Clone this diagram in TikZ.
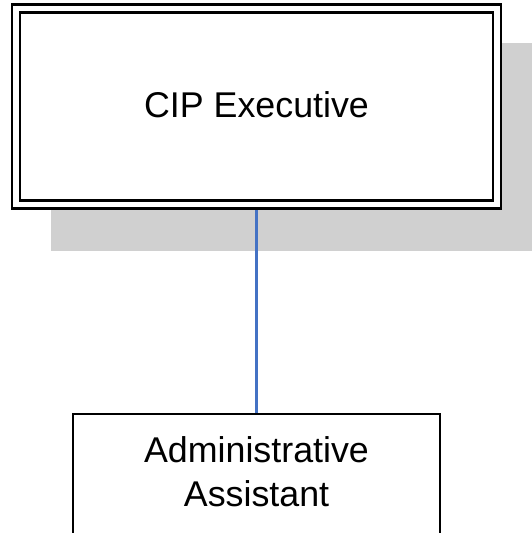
\documentclass[tikz,border=0pt]{standalone}
\usepackage{fontspec}
\setmainfont{Liberation Sans}
\usetikzlibrary{backgrounds}
\definecolor{shadowgray}{RGB}{208,208,208}
\definecolor{linkblue}{RGB}{68,114,196}
\begin{document}
\begin{tikzpicture}[x=1pt,y=-1pt,
  orgtext/.style={font=\fontsize{35.8}{44}\selectfont, align=center, inner sep=0pt},
  execbox/.style={draw=black, line width=2.3pt, double=white, double distance=5.7pt,
    fill=white, minimum width=480.5pt, minimum height=196pt, inner sep=0pt,
    text depth=4pt, font=\fontsize{35.8}{44}\selectfont},
  orgbox/.style={draw=black, line width=2.3pt, fill=white, inner sep=0pt},
  link/.style={draw=linkblue, line width=2.7pt}]
  \useasboundingbox (0,0) rectangle (532,533);
  \clip (0,0) rectangle (532,533);

  % top position with its double frame
  \node[execbox] (exec) at (256.5,106.5) {CIP Executive};

  % lower position, running past the bottom edge
  \node[orgbox, minimum width=367pt, minimum height=160pt, anchor=north] (asst) at (256.5,413) {};
  \node[orgtext] (asstlabel) at (256.5,471.5) {Administrative\\Assistant};

  \begin{scope}[on background layer]
    % drop shadow behind the top frame
    \fill[shadowgray] (51,43) rectangle (540,251);
    % reporting line
    \draw[link] (exec.south) -- (asst.north);
  \end{scope}
\end{tikzpicture}
\end{document}
